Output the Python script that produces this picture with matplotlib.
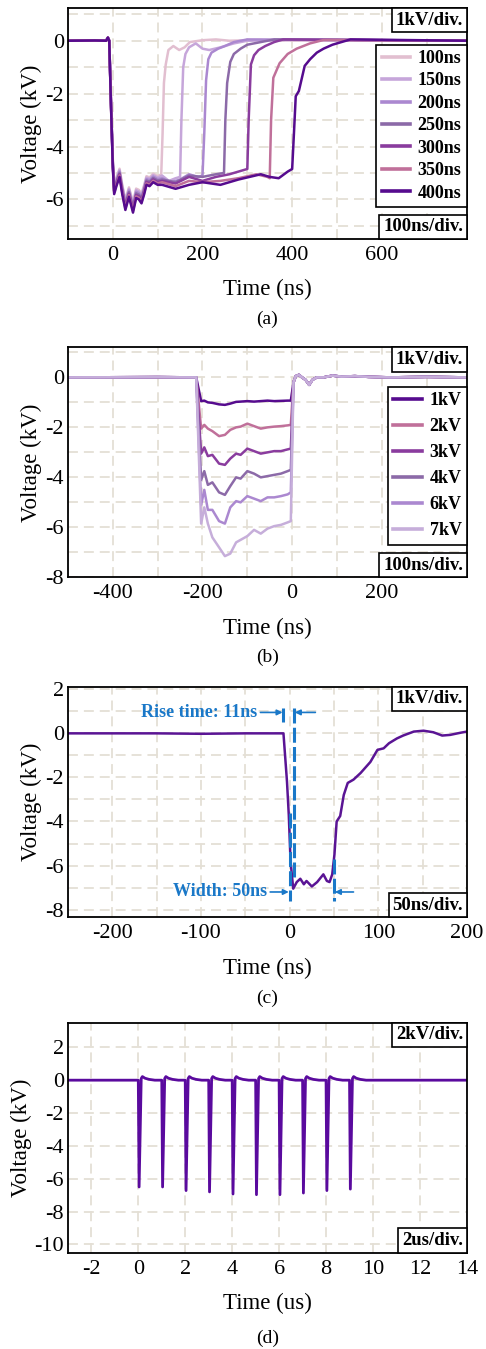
import numpy as np
import matplotlib
matplotlib.use('Agg')
from matplotlib import pyplot as plt
from matplotlib.offsetbox import AnchoredText
from matplotlib.ticker import MultipleLocator

plt.rcParams['font.family'] = ['Liberation Serif', 'DejaVu Serif']
plt.rcParams['axes.unicode_minus'] = False

# ---------------- (a) pulse width sweep ----------------
a_labels = ['100ns', '150ns', '200ns', '250ns', '300ns', '350ns', '400ns']
a_colors = ['#e2bfd0', '#c6a6da', '#ab88d0', '#8c6aa8', '#8a3c9e', '#c0709a', '#560b8e']
# common leading edge + ringing (deepest trace), lighter traces are a bit shallower
a_onset_t = [-100, -40, -15, -11, -8, -4, 0, 3, 8, 15, 21, 28, 36, 45, 52, 58, 64, 70, 75, 82, 90, 100]
a_onset_v = [0.0, 0.01, 0.0, 0.12, 0.0, -2.5, -4.8, -5.8, -5.5, -5.15, -5.8, -6.4, -5.9, -6.5,
             -5.95, -6.0, -6.15, -5.8, -5.45, -5.5, -5.35, -5.45]
a_onset_depth = [0.94, 0.95, 0.96, 0.97, 0.98, 0.99, 1.0]
# plateau + trailing edge of each trace
a_tail_t = [
    [108, 111, 114, 118, 124, 135, 148, 160, 172, 200, 230, 260, 330, 450, 600, 790],
    [110, 125, 140, 150, 153, 157, 162, 170, 185, 200, 215, 240, 270, 300, 400, 790],
    [110, 130, 150, 170, 190, 200, 204, 208, 213, 220, 235, 250, 270, 300, 790],
    [110, 140, 170, 200, 230, 248, 251, 255, 262, 270, 285, 300, 330, 360, 790],
    [110, 140, 170, 200, 230, 260, 290, 300, 303, 308, 315, 325, 340, 360, 380, 790],
    [110, 140, 170, 200, 240, 280, 320, 345, 350, 353, 358, 372, 390, 410, 440, 470, 790],
    [110, 140, 170, 200, 240, 280, 330, 350, 370, 390, 400, 404, 408, 415, 428, 440, 455,
     470, 490, 510, 530, 790],
]
a_tail_v = [
    [-5.05, -3.5, -1.6, -0.9, -0.35, -0.2, -0.35, -0.25, -0.05, 0.02, 0.05, 0.0, 0.03, 0.0, 0.02, 0.0],
    [-5.1, -5.3, -5.2, -5.15, -3.0, -1.0, -0.5, -0.25, -0.1, -0.3, -0.35, -0.25, -0.1, 0.0, 0.03, 0.0],
    [-5.2, -5.35, -5.25, -5.05, -5.15, -5.1, -3.5, -1.5, -0.7, -0.45, -0.3, -0.2, -0.05, 0.05, 0.0],
    [-5.25, -5.35, -5.1, -5.15, -5.05, -5.0, -3.0, -1.6, -0.8, -0.5, -0.3, -0.15, -0.05, 0.05, 0.0],
    [-5.3, -5.4, -5.15, -5.3, -5.15, -5.05, -4.9, -4.85, -3.0, -0.9, -0.55, -0.35, -0.2, -0.05, 0.05, 0.0],
    [-5.35, -5.5, -5.3, -5.35, -5.3, -5.2, -5.05, -5.15, -5.2, -3.0, -1.4, -0.85, -0.5, -0.3, -0.1, 0.03, 0.0],
    [-5.45, -5.6, -5.45, -5.35, -5.45, -5.25, -5.05, -5.15, -5.2, -4.95, -4.85, -3.5, -2.1, -1.9,
     -0.95, -0.7, -0.45, -0.3, -0.15, -0.05, 0.05, 0.0],
]

# ---------------- (b) amplitude sweep ----------------
b_labels = ['1kV', '2kV', '3kV', '4kV', '6kV', '7kV']
b_colors = ['#560b8e', '#c0709a', '#8a3c9e', '#8c6aa8', '#ab88d0', '#c6aeda']
b_pre_t = [-500, -300, -214]
b_pre_v = [0.0, 0.01, 0.0]
b_plateau_t = [-203, -196, -188, -178, -163, -150, -138, -125, -115, -100, -85, -70, -55, -40, -25, -10, -3]
b_plateau_v = [
    [-0.95, -0.93, -1.0, -1.02, -1.08, -1.1, -1.05, -0.98, -0.97, -0.95, -0.97, -0.95, -0.93, -0.95, -0.94, -0.93, -0.93],
    [-2.05, -1.9, -2.05, -2.15, -2.35, -2.3, -2.1, -2.0, -1.97, -1.85, -1.95, -2.05, -2.0, -1.97, -1.95, -1.92, -1.9],
    [-3.05, -2.8, -3.15, -3.1, -3.45, -3.5, -3.25, -3.05, -3.1, -2.85, -2.95, -3.05, -3.0, -2.95, -2.95, -2.88, -2.85],
    [-4.1, -3.75, -4.3, -4.2, -4.6, -4.7, -4.35, -4.0, -4.05, -3.75, -3.85, -4.0, -3.95, -3.9, -3.85, -3.75, -3.7],
    [-5.1, -4.5, -5.3, -5.3, -5.75, -5.85, -5.2, -4.95, -5.0, -4.75, -4.85, -4.95, -4.8, -4.8, -4.75, -4.68, -4.6],
    [-5.85, -5.2, -5.85, -6.4, -6.8, -7.15, -7.05, -6.6, -6.5, -6.35, -6.1, -6.25, -6.05, -5.95, -5.9, -5.8, -5.75],
]
b_post_t = [3, 8, 15, 22, 30, 38, 45, 55, 70, 90, 110, 140, 170, 220, 300, 390]
b_post_v = [-0.2, 0.05, 0.1, 0.0, -0.1, -0.3, -0.1, 0.0, 0.0, 0.07, 0.03, 0.05, 0.02, 0.0, 0.02, 0.0]

# ---------------- (c) single 50ns pulse ----------------
c_t = [-250, -150, -100, -50, -7, -3, -1, 1, 4, 8, 12, 16, 19, 25, 31, 35, 38, 42, 45, 48, 50.5, 53,
       57, 61, 65.5, 72, 80, 91, 99, 106, 112, 121, 128, 140, 151, 162, 172, 181, 193, 200]
c_v = [0.0, 0.0, -0.02, 0.0, 0.0, -2.2, -3.7, -5.8, -7.05, -6.75, -6.6, -6.85, -6.7, -6.95, -6.75,
       -6.55, -6.4, -6.7, -6.75, -6.4, -5.5, -4.0, -3.75, -2.8, -2.25, -2.1, -1.8, -1.3, -0.75, -0.68,
       -0.45, -0.23, -0.1, 0.08, 0.12, 0.05, -0.1, -0.07, 0.03, 0.08]

# ---------------- (d) burst of 10 pulses ----------------
d_pulse_t = [0, 1, 2, 3, 4, 5, 6, 7, 8, 9]
d_pulse_peak = [-6.5, -6.5, -6.72, -6.8, -6.93, -6.97, -6.97, -6.87, -6.72, -6.63]
d_recover_dt = [0.12, 0.17, 0.28, 0.45, 0.7]
d_recover_v = [0.1, 0.22, 0.12, 0.05, 0.0]

blue = '#1a78c8'
grid_col = '#e4dfd5'

fig = plt.figure(figsize=(4.86, 13.49), dpi=100)
L, W = 0.1399, 0.8210


def style_axes(ax, xlim, ylim, xmaj, xmin, ymaj, ymin, xlabel, scale_x, scale_y, ylab_x=-0.091):
    ax.set_xlim(*xlim)
    ax.set_ylim(*ylim)
    ax.xaxis.set_major_locator(MultipleLocator(xmaj))
    ax.xaxis.set_minor_locator(MultipleLocator(xmin))
    ax.yaxis.set_major_locator(MultipleLocator(ymaj))
    ax.yaxis.set_minor_locator(MultipleLocator(ymin))
    ax.grid(which='both', color=grid_col, linestyle=(0, (5.5, 3.3)), linewidth=1.3)
    ax.set_axisbelow(True)
    ax.tick_params(which='both', length=0, labelsize=16)
    ax.tick_params(axis='x', pad=5)
    ax.tick_params(axis='y', pad=3)
    for s in ax.spines.values():
        s.set_linewidth(1.3)
    ax.set_xlabel(xlabel, fontsize=16.5)
    ax.set_ylabel('Voltage (kV)', fontsize=16.5)
    ax.xaxis.label.set_va('center')
    ax.yaxis.label.set_va('center')
    ax.xaxis.set_label_coords(0.5, -0.22)
    ax.yaxis.set_label_coords(ylab_x, 0.5)
    for txt, loc in ((scale_y, 'upper right'), (scale_x, 'lower right')):
        at = AnchoredText(txt, loc=loc, prop=dict(size=13.5, weight='bold'), frameon=True,
                          pad=0.2, borderpad=0)
        at.patch.set_boxstyle('square,pad=0')
        at.patch.set_linewidth(1.2)
        at.set_zorder(6)
        ax.add_artist(at)


def add_legend(ax, spacing, anchor_y):
    leg = ax.legend(loc='center right', bbox_to_anchor=(1.0, anchor_y), borderaxespad=0,
                    fancybox=False, edgecolor='black', framealpha=1,
                    prop=dict(size=13, weight='bold'), handlelength=1.6, handletextpad=0.4,
                    labelspacing=spacing, borderpad=0.3)
    leg.get_frame().set_linewidth(1.2)
    for line in leg.get_lines():
        line.set_linewidth(2.6)
    leg.set_zorder(5)


# (a)
ax = fig.add_axes([L, 0.8228, W, 0.1713])
for i in range(len(a_labels)):
    t = a_onset_t + a_tail_t[i]
    v = [x * a_onset_depth[i] for x in a_onset_v] + a_tail_v[i]
    ax.plot(t, v, color=a_colors[i], lw=1.8, label=a_labels[i])
style_axes(ax, (-100, 790), (-7.5, 1.24), 200, 100, 2, 1, 'Time (ns)', '100ns/div.', '1kV/div.')
add_legend(ax, 0.3, 0.49)
fig.text(L + W / 2, 1 - 319 / 1349, '(a)', ha='center', va='center', fontsize=14)

# (b)
ax = fig.add_axes([L, 0.5720, W, 0.1705])
for i in range(len(b_labels)):
    t = b_pre_t + b_plateau_t + b_post_t
    v = b_pre_v + b_plateau_v[i] + b_post_v
    ax.plot(t, v, color=b_colors[i], lw=1.8, label=b_labels[i])
style_axes(ax, (-500, 390), (-8, 1.2), 200, 100, 2, 1, 'Time (ns)', '100ns/div.', '1kV/div.')
add_legend(ax, 0.5, 0.486)
fig.text(L + W / 2, 1 - 657 / 1349, '(b)', ha='center', va='center', fontsize=14)

# (c)
ax = fig.add_axes([L, 0.3200, W, 0.1710])
ax.plot(c_t, c_v, color='#5a1494', lw=1.8)
style_axes(ax, (-250, 200), (-8.35, 2.12), 100, 50, 2, 1, 'Time (ns)', '50ns/div.', '1kV/div.')
dash = (0, (4.9, 1.4))
ax.plot([-7, -7], [1.13, 0.5], color=blue, lw=2.2, ls=dash)
ax.plot([4.5, 4.5], [1.13, -6.6], color=blue, lw=2.2, ls=dash)
ax.plot([0, 0], [-3.6, -7.6], color=blue, lw=2.2, ls=dash)
ax.plot([50, 50], [-5.7, -7.6], color=blue, lw=2.2, ls=dash)
arrow = dict(arrowstyle='-|>', color=blue, lw=1.2, mutation_scale=8, shrinkA=0, shrinkB=0)
ax.annotate('', xy=(-8, 0.95), xytext=(-33, 0.95), arrowprops=arrow)
ax.annotate('', xy=(5.8, 0.95), xytext=(29, 0.95), arrowprops=arrow)
ax.annotate('', xy=(-1, -7.2), xytext=(-22, -7.2), arrowprops=arrow)
ax.annotate('', xy=(51, -7.2), xytext=(72, -7.2), arrowprops=arrow)
ax.text(-36, 0.95, 'Rise time: 11ns', color=blue, fontsize=13, fontweight='bold', ha='right', va='center')
ax.text(-25, -7.2, 'Width: 50ns', color=blue, fontsize=13, fontweight='bold', ha='right', va='center')
fig.text(L + W / 2, 1 - 998 / 1349, '(c)', ha='center', va='center', fontsize=14)

# (d)
ax = fig.add_axes([L, 0.0714, W, 0.1705])
d_t = [-3.0]
d_v = [0.0]
for t0, pk in zip(d_pulse_t, d_pulse_peak):
    d_t += [t0 - 0.005, t0 + 0.03] + [t0 + dt for dt in d_recover_dt]
    d_v += [0.0, pk] + d_recover_v
d_t.append(14.0)
d_v.append(0.0)
ax.plot(d_t, d_v, color='#5a0a9e', lw=2.0)
style_axes(ax, (-3, 14), (-10.5, 3.5), 2, 2, 2, 2, 'Time (us)', '2us/div.', '2kV/div.', ylab_x=-0.116)
fig.text(L + W / 2, 1 - 1338 / 1349, '(d)', ha='center', va='center', fontsize=14)

fig.savefig('out.png', dpi=100)
